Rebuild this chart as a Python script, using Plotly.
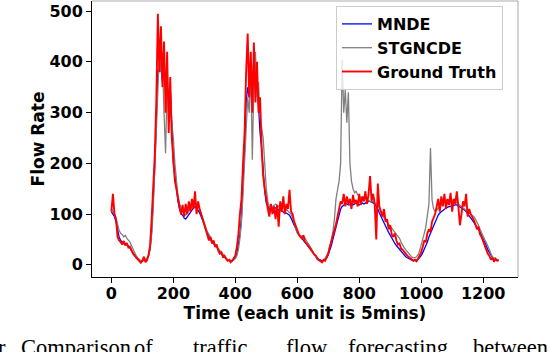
import plotly.graph_objects as go

# Time axis (each unit is 5 mins), sampled every 5 units
time_steps = list(range(0, 1251, 5))

ground_truth = [
    105, 140, 100, 90, 55, 48, 45, 40, 47, 38,
    43, 34, 36, 28, 22, 18, 14, 10, 6, 4,
    8, 16, 5, 9, 20, 38, 90, 150, 215, 320,
    495, 380, 470, 350, 440, 300, 420, 260, 370, 250,
    200, 165, 150, 130, 115, 100, 118, 95, 120, 100,
    125, 105, 130, 110, 145, 100, 125, 110, 100, 90,
    78, 70, 60, 48, 55, 42, 48, 35, 40, 28,
    22, 25, 16, 18, 12, 8, 10, 5, 8, 12,
    18, 35, 60, 100, 130, 200, 260, 380, 456, 330,
    420, 300, 438, 320, 400, 300, 330, 230, 175, 150,
    128, 110, 95, 120, 100, 115, 90, 118, 75, 125,
    105, 135, 100, 120, 110, 148, 105, 100, 85, 75,
    68, 60, 55, 52, 58, 45, 42, 38, 35, 30,
    25, 20, 18, 12, 10, 8, 5, 10, 8, 15,
    22, 35, 45, 55, 70, 80, 95, 110, 125, 120,
    140, 115, 135, 120, 130, 110, 138, 120, 128, 115,
    140, 118, 135, 125, 145, 120, 138, 175, 125, 140,
    120, 50, 160, 115, 105, 95, 110, 85, 90, 70,
    78, 60, 55, 62, 48, 40, 42, 32, 30, 25,
    22, 18, 15, 14, 10, 8, 10, 7, 12, 18,
    25, 35, 48, 45, 62, 70, 65, 85, 92, 100,
    115, 130, 105, 135, 115, 140, 110, 130, 118, 142,
    105, 130, 120, 145, 115, 78, 100, 125, 115, 140,
    95, 110, 100, 95, 88, 80, 70, 75, 60, 55,
    45, 40, 30, 22, 18, 10, 14, 6, 12, 8,
    9,
]

mnde = [
    105, 100, 95, 85, 70, 55, 48, 44, 42, 42,
    40, 37, 33, 28, 22, 18, 14, 11, 9, 8,
    8, 9, 10, 12, 18, 32, 65, 120, 190, 280,
    385, 380, 390, 360, 380, 355, 350, 330, 350, 280,
    200, 175, 145, 125, 110, 100, 98, 92, 90, 95,
    100, 105, 108, 112, 115, 112, 108, 102, 95, 88,
    80, 70, 62, 55, 50, 45, 42, 38, 35, 30,
    25, 21, 18, 15, 12, 10, 9, 8, 8, 10,
    14, 22, 38, 60, 95, 150, 230, 320, 350, 330,
    345, 340, 355, 366, 366, 300, 260, 230, 180, 145,
    122, 115, 110, 110, 112, 114, 112, 110, 108, 108,
    106, 105, 102, 102, 100, 98, 92, 85, 78, 70,
    65, 60, 56, 52, 48, 44, 40, 36, 32, 28,
    24, 20, 16, 13, 11, 9, 8, 9, 11, 14,
    20, 28, 38, 50, 62, 75, 88, 100, 110, 115,
    118, 120, 120, 118, 118, 120, 118, 120, 122, 120,
    118, 120, 122, 120, 122, 124, 125, 125, 124, 122,
    120, 115, 110, 102, 95, 88, 82, 76, 70, 64,
    58, 52, 47, 42, 38, 34, 30, 26, 22, 19,
    16, 14, 12, 10, 9, 8, 8, 9, 11, 14,
    18, 24, 30, 38, 45, 55, 62, 70, 78, 85,
    92, 98, 102, 105, 108, 110, 112, 113, 115, 115,
    116, 118, 118, 118, 116, 115, 112, 110, 108, 105,
    100, 95, 92, 88, 84, 80, 75, 70, 64, 58,
    50, 44, 38, 30, 24, 18, 14, 11, 10, 9,
    9,
]

stgncde = [
    110, 105, 100, 92, 80, 68, 62, 60, 55, 58,
    52, 48, 45, 38, 30, 25, 18, 14, 10, 8,
    7, 8, 10, 12, 18, 30, 60, 110, 180, 260,
    340, 420, 380, 400, 300, 220, 360, 330, 300, 280,
    250, 200, 160, 135, 120, 110, 105, 100, 98, 102,
    108, 110, 115, 118, 120, 118, 115, 110, 100, 90,
    80, 72, 65, 60, 55, 48, 42, 40, 36, 32,
    28, 24, 20, 16, 12, 10, 8, 7, 8, 10,
    12, 18, 30, 52, 85, 140, 210, 280, 330, 300,
    390, 207, 360, 420, 330, 360, 290, 270, 250, 200,
    150, 125, 115, 112, 115, 118, 120, 118, 115, 118,
    120, 115, 112, 110, 108, 105, 100, 92, 80, 68,
    62, 60, 58, 56, 58, 52, 48, 42, 38, 32,
    26, 20, 14, 10, 8, 7, 6, 8, 12, 18,
    25, 35, 48, 65, 90, 130, 150, 165, 200, 404,
    300, 345, 280, 340, 200, 165, 150, 142, 145, 138,
    135, 132, 130, 128, 130, 128, 126, 125, 124, 125,
    122, 120, 118, 112, 105, 98, 92, 88, 84, 80,
    76, 72, 70, 66, 62, 58, 52, 45, 38, 34,
    30, 26, 22, 18, 15, 14, 14, 16, 20, 28,
    38, 50, 62, 75, 95, 120, 230, 128, 110, 105,
    108, 112, 115, 118, 122, 125, 128, 125, 128, 130,
    126, 128, 125, 122, 120, 118, 115, 112, 110, 108,
    105, 102, 100, 98, 95, 90, 85, 78, 70, 62,
    56, 50, 44, 38, 30, 22, 16, 14, 12, 10,
    10,
]

x_ticks = [0, 200, 400, 600, 800, 1000, 1200]
y_ticks = [0, 100, 200, 300, 400, 500]

caption_words = ["r", "Comparison", "of", "traffic", "flow", "forecasting", "between"]

W, H = 550, 352
L, R, T, B = 92, 32, 1, 75
pw, ph = W - L - R, H - T - B

def px(xp):
    return (xp - L) / pw

def py(yp):
    return 1 - (yp - T) / ph

bold = dict(family="DejaVu Sans", size=16, color="black", weight="bold")

fig = go.Figure()
fig.add_trace(go.Scatter(x=time_steps, y=mnde, mode="lines", name="MNDE",
                         line=dict(color="#0000ff", width=1.3)))
fig.add_trace(go.Scatter(x=time_steps, y=stgncde, mode="lines", name="STGNCDE",
                         line=dict(color="#808080", width=1.3)))
fig.add_trace(go.Scatter(x=time_steps, y=ground_truth, mode="lines", name="Ground Truth",
                         line=dict(color="#ff0000", width=1.9)))

fig.update_layout(
    width=W, height=H,
    margin=dict(l=L, r=R, t=T, b=B, autoexpand=False),
    paper_bgcolor="white", plot_bgcolor="white",
    font=bold,
    showlegend=True,
    legend=dict(x=px(336), xanchor="left", y=py(6), yanchor="top",
                bgcolor="rgba(255,255,255,0.8)", bordercolor="#cccccc", borderwidth=1,
                font=dict(family="DejaVu Sans", size=16, color="black", weight="bold"),
                tracegroupgap=0),
    xaxis=dict(range=[-62.5, 1312.5], tickvals=x_ticks, showgrid=False, zeroline=False,
               automargin=False,
               showline=True, linecolor="black", linewidth=1,
               ticks="outside", ticklen=5, tickcolor="black", tickfont=bold,
               ticklabelstandoff=-3,
               title=dict(text="Time (each unit is 5mins)",
                          font=dict(family="DejaVu Sans", size=17, color="black", weight="bold"),
                          standoff=0)),
    yaxis=dict(range=[-24, 520], tickvals=y_ticks, showgrid=False, zeroline=False,
               automargin=False,
               showline=True, linecolor="black", linewidth=1,
               ticks="outside", ticklen=5, tickcolor="black", tickfont=bold,
               title=dict(text="Flow Rate",
                          font=dict(family="DejaVu Sans", size=17, color="black", weight="bold"),
                          standoff=0)),
)

# top and right frame lines
fig.add_shape(type="line", xref="paper", yref="paper", x0=0, x1=1, y0=1, y1=1,
              line=dict(color="#aaaaaa", width=1))
fig.add_shape(type="line", xref="paper", yref="paper", x0=1, x1=1, y0=0, y1=1,
              line=dict(color="#aaaaaa", width=1))

caption_x = [7, 20, 133, 192, 285, 347, 472]
for word, xp in zip(caption_words, caption_x):
    fig.add_annotation(text=word, xref="paper", yref="paper",
                       x=px(xp), y=py(334), xanchor="right" if word == "r" else "left",
                       yanchor="top", showarrow=False, borderpad=0,
                       font=dict(family="Liberation Serif", size=22.5, color="black",
                                 weight="normal"))

fig.write_html("out.html", config={"displayModeBar": False},
               post_script="document.body.style.margin='0';document.body.style.overflow='hidden';")
